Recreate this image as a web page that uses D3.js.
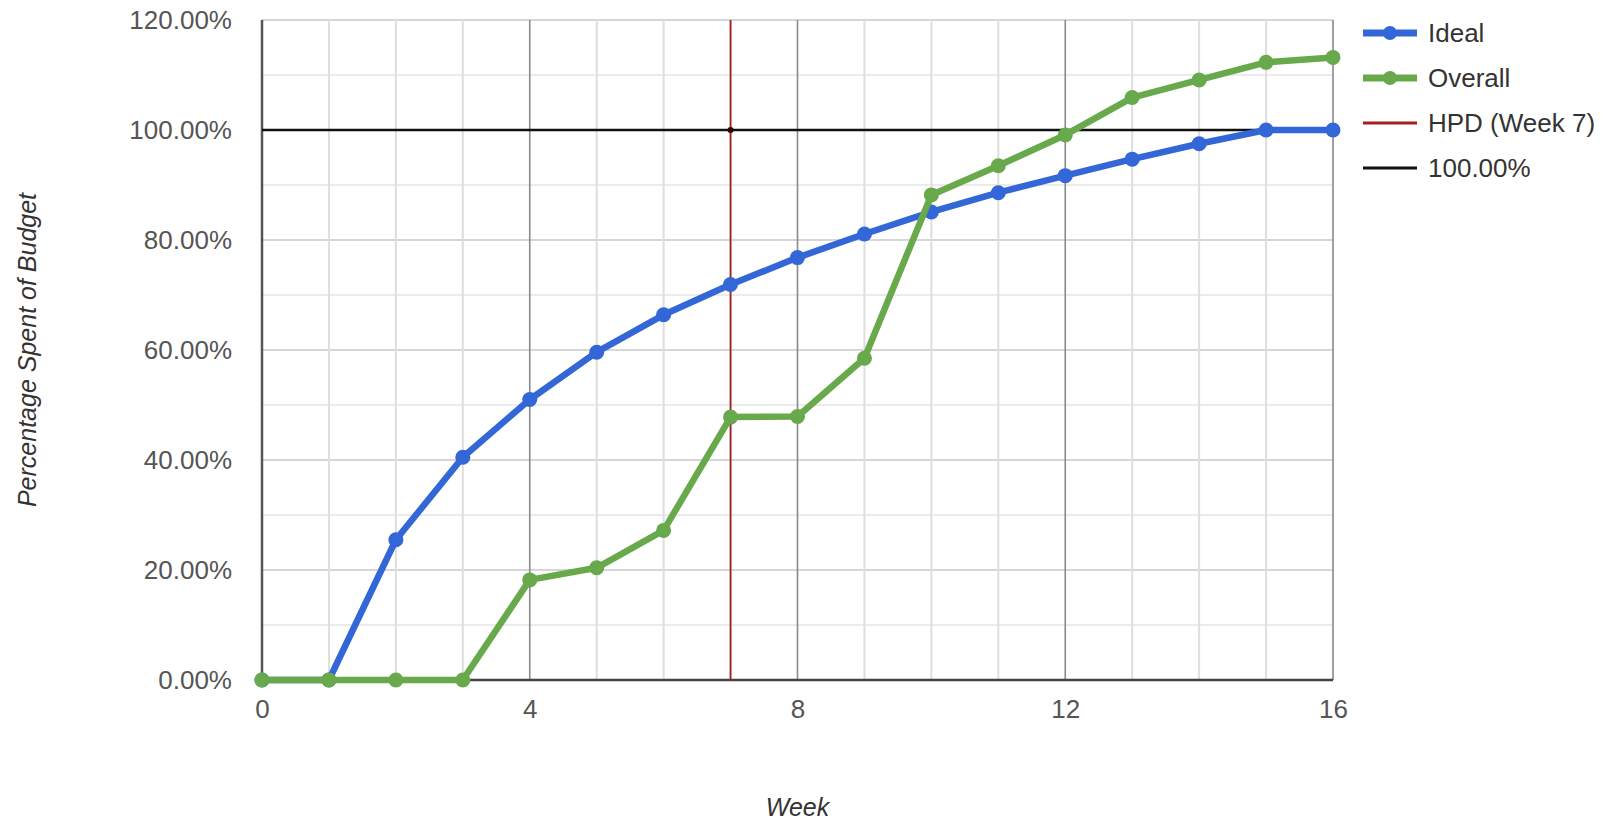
<!DOCTYPE html>
<html>
<head>
<meta charset="utf-8">
<script src="https://cdn.jsdelivr.net/npm/d3@7"></script>
<style>
  body { margin: 0; background: #fff; }
  svg { display: block; font-family: "Liberation Sans", Arial, sans-serif; }
</style>
</head>
<body>
<div id="chart"></div>
<script>
// budget burn chart, ideal vs overall spend per week
const weeks = [0, 1, 2, 3, 4, 5, 6, 7, 8, 9, 10, 11, 12, 13, 14, 15, 16];
const ideal = [0, 0, 25.5, 40.5, 51, 59.6, 66.4, 71.9, 76.8, 81.1, 85.1, 88.6, 91.7, 94.7, 97.5, 100, 100];
const overall = [0, 0, 0, 0, 18.2, 20.4, 27.2, 47.8, 47.9, 58.5, 88.2, 93.5, 99.1, 105.9, 109.1, 112.3, 113.2];
const hpdWeek = 7;
const targetPct = 100;
const yTicks = [0, 20, 40, 60, 80, 100, 120];
const xTicks = [0, 4, 8, 12, 16];
const legendNames = ["Ideal", "Overall", "HPD (Week 7)", "100.00%"];

const W = 1621, H = 824;
const margin = { top: 20, right: 288, bottom: 144, left: 262 };
const width = W - margin.left - margin.right;   // week 0 -> 16
const height = H - margin.top - margin.bottom;  // 120% -> 0%

const blue = "#3366d6", green = "#67a94b", red = "#a51f1f", black = "#111";

const svg = d3.select("#chart").append("svg")
    .attr("width", W)
    .attr("height", H);
const g = svg.append("g")
    .attr("transform", "translate(" + margin.left + "," + margin.top + ")");

const x = d3.scaleLinear().domain([0, 16]).range([0, width]);
const y = d3.scaleLinear().domain([0, 120]).range([height, 0]);

// gridlines - minor every 10%, every week
g.append("g").selectAll("line")
    .data(d3.range(0, 121, 10))
    .enter().append("line")
    .attr("x1", 0).attr("x2", width)
    .attr("y1", d => y(d)).attr("y2", d => y(d))
    .attr("stroke", d => d % 20 === 0 ? "#d6d6d6" : "#ebebeb")
    .attr("stroke-width", 2);

g.append("g").selectAll("line")
    .data(weeks)
    .enter().append("line")
    .attr("x1", d => x(d)).attr("x2", d => x(d))
    .attr("y1", 0).attr("y2", height)
    .attr("stroke", d => d % 4 === 0 ? "#8a8a8a" : "#dedede")
    .attr("stroke-width", d => d % 4 === 0 ? 1.6 : 2);

// axes
const yAxis = d3.axisLeft(y).tickValues(yTicks)
    .tickFormat(d => d3.format(".2%")(d / 100)).tickSize(0).tickPadding(30);
g.append("g").call(yAxis)
    .call(a => a.select(".domain").remove())
    .selectAll("text")
    .style("font-size", "26px")
    .attr("fill", "#555");

const xAxis = d3.axisBottom(x).tickValues(xTicks).tickSize(0).tickPadding(20);
g.append("g")
    .attr("transform", "translate(0," + height + ")")
    .call(xAxis)
    .call(a => a.select(".domain").remove())
    .selectAll("text")
    .style("font-size", "26px")
    .attr("fill", "#555");

g.append("line")
    .attr("x1", 0).attr("x2", 0).attr("y1", 0).attr("y2", height)
    .attr("stroke", "#555").attr("stroke-width", 2.5);
g.append("line")
    .attr("x1", 0).attr("x2", width).attr("y1", height).attr("y2", height)
    .attr("stroke", "#444").attr("stroke-width", 2.5);

// reference lines
g.append("line")
    .attr("x1", x(hpdWeek)).attr("x2", x(hpdWeek))
    .attr("y1", y(0)).attr("y2", y(120))
    .attr("stroke", red).attr("stroke-width", 1.8);
g.append("line")
    .attr("x1", x(0)).attr("x2", x(16))
    .attr("y1", y(targetPct)).attr("y2", y(targetPct))
    .attr("stroke", black).attr("stroke-width", 2.6);
g.append("circle")
    .attr("cx", x(hpdWeek)).attr("cy", y(targetPct)).attr("r", 3)
    .attr("fill", "#300");

// series
const line = d3.line().x((d, i) => x(weeks[i])).y(d => y(d));

function drawSeries(vals, color) {
    g.append("path")
        .datum(vals)
        .attr("fill", "none")
        .attr("stroke", color)
        .attr("stroke-width", 6.5)
        .attr("stroke-linejoin", "round")
        .attr("d", line);
    g.append("g").selectAll("circle")
        .data(vals)
        .enter().append("circle")
        .attr("cx", (d, i) => x(weeks[i]))
        .attr("cy", d => y(d))
        .attr("r", 7.5)
        .attr("fill", color);
}
drawSeries(ideal, blue);
drawSeries(overall, green);

// legend
const legend = svg.append("g").attr("transform", "translate(1363,33)");
const legendColors = [blue, green, red, black];
legendNames.forEach((name, i) => {
    const row = legend.append("g").attr("transform", "translate(0," + (i * 45) + ")");
    row.append("line")
        .attr("x1", 0).attr("x2", 54)
        .attr("stroke", legendColors[i])
        .attr("stroke-width", i < 2 ? 7 : 3);
    if (i < 2) {
        row.append("circle").attr("cx", 27).attr("r", 7).attr("fill", legendColors[i]);
    }
    row.append("text")
        .attr("x", 65).attr("dy", "0.36em")
        .style("font-size", "26px")
        .attr("fill", "#333")
        .text(name);
});

// axis titles
svg.append("text")
    .attr("transform", "translate(36," + (margin.top + height / 2) + ") rotate(-90)")
    .attr("text-anchor", "middle")
    .style("font-size", "25px")
    .style("font-style", "italic")
    .attr("fill", "#333")
    .text("Percentage Spent of Budget");

svg.append("text")
    .attr("x", margin.left + width / 2)
    .attr("y", 816)
    .attr("text-anchor", "middle")
    .style("font-size", "25px")
    .style("font-style", "italic")
    .attr("fill", "#333")
    .text("Week");
</script>
</body>
</html>
